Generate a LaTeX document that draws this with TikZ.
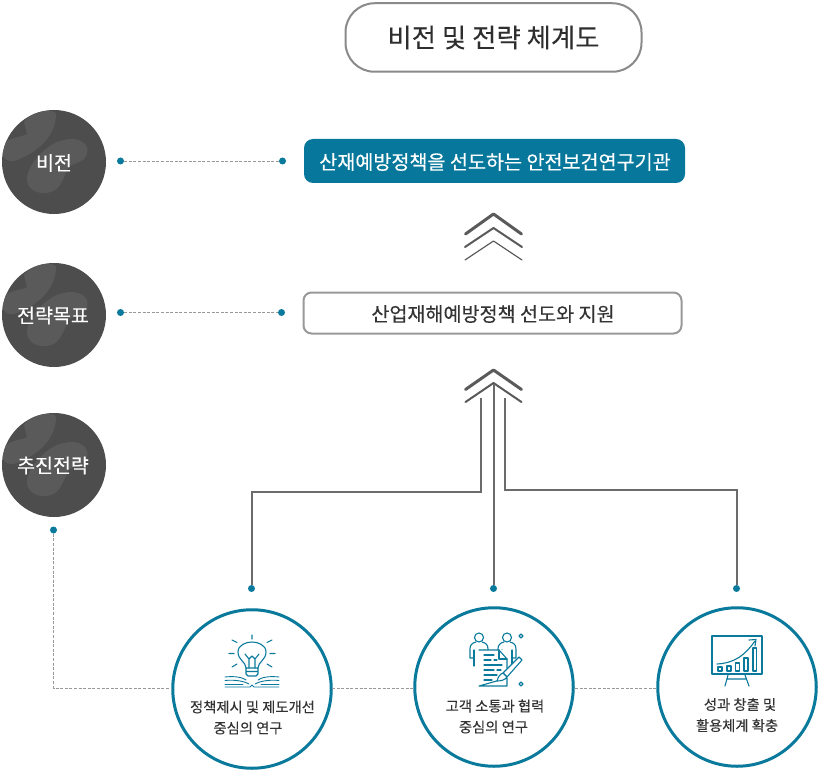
\documentclass[tikz,border=0pt]{standalone}
\usepackage{fontspec}
\setmainfont{Noto Sans CJK KR}
\newfontfamily\medf[FakeBold=0.35]{Noto Sans CJK KR}
\newfontfamily\semif[FakeBold=0.15]{Noto Sans CJK KR}
\definecolor{teal1}{HTML}{0A7A9C}
\definecolor{tealbox}{HTML}{07789B}
\definecolor{dark}{HTML}{4D4D4D}
\definecolor{blob}{HTML}{5A5A5A}
\definecolor{txt}{HTML}{333333}
\definecolor{grayln}{HTML}{999999}
\definecolor{chev}{HTML}{5A5A5A}
\tikzset{
 x=1pt,y=-1pt,
 px/.style={font=\semif\fontsize{#1}{#1}\selectfont},
 pxm/.style={font=\medf\fontsize{#1}{#1}\selectfont},
 dot/.style={circle,fill=teal1,inner sep=0,minimum size=7pt},
 dashln/.style={draw=grayln,line width=0.8pt,dash pattern=on 3pt off 1.6pt},
 side/.style={circle,fill=dark,inner sep=0,minimum size=104pt},
 sidetxt/.style={text=white,pxm=19.5,inner sep=0},
 goal/.style={circle,draw=teal1,line width=3pt,fill=none,inner sep=0,minimum size=158.5pt},
 captxt/.style={align=center,text=txt,px=14.3,inner sep=0},
 ic/.style={draw=teal1,line width=1.1pt,line cap=round,line join=round},
 icb/.style={draw=teal1,line width=0.9pt,line cap=round,line join=round},
 pipe/.style={draw=chev!90!white,line width=1.6pt},
}
\newcommand{\blobs}[2]{%
 \begin{scope}[shift={(#1,#2)}]
  \clip (0,0) circle (52);
  \fill[blob] (-30,-40) .. controls (-25,-50) and (0,-55) .. (2,-48) .. controls (2,-30) and (-10,-15) .. (-30,-5) .. controls (-42,2) and (-52,0) .. (-52,-12) .. controls (-52,-25) and (-30,-25) .. (-27,-28) -- cycle;
  \fill[blob] (-27,15) .. controls (-25,0) and (-5,-20) .. (10,-22) .. controls (25,-26) and (36,-18) .. (33,-8) .. controls (30,2) and (18,0) .. (14,6) .. controls (8,20) and (5,30) .. (-8,31) .. controls (-20,32) and (-28,25) .. (-27,15) -- cycle;
 \end{scope}}
\begin{document}
\begin{tikzpicture}
\useasboundingbox (0,0) rectangle (819,770);
\fill[white] (0,0) rectangle (819,770);
% title
\node[draw=grayln!90!black,line width=2pt,rounded corners=29pt,minimum width=296pt,minimum height=68.5pt,inner sep=0,text=txt!90!black,px=26.4] (title) at (493.5,37.5) {비전 및 전략 체계도};
% side circles
\node[side] (s1) at (54,162) {};
\node[side] (s2) at (54,315) {};
\node[side] (s3) at (54,465) {};
\blobs{54}{162}\blobs{54}{315}\blobs{54}{465}
\node[sidetxt] (t1) at (54,163) {비전};
\node[sidetxt] (t2) at (53,315.5) {전략목표};
\node[sidetxt] (t3) at (53,465.5) {추진전략};
% boxes
\node[fill=tealbox,rounded corners=9pt,minimum width=381pt,minimum height=44pt,inner sep=0] (vision) at (494.5,161) {};
\node[text=white,pxm=19.6,inner sep=0] (visiontxt) at (495,162) {산재예방정책을 선도하는 안전보건연구기관};
\node[draw=grayln,line width=2pt,fill=white,rounded corners=8pt,minimum width=378pt,minimum height=41pt,inner sep=0] (goal) at (492.5,313) {};
\node[text=txt,px=19.6,inner sep=0] (goaltxt) at (493,314) {산업재해예방정책 선도와 지원};
% dotted connectors
\node[dot] (a1) at (120.5,161) {};
\node[dot] (a2) at (282.5,161) {};
\node[dot] (b1) at (120.5,312.5) {};
\node[dot] (b2) at (281.5,312.5) {};
\draw[dashln] (a1) -- (a2);
\draw[dashln] (b1) -- (b2);
% chevrons
\coordinate (c1) at (493.5,214);
\draw[chev,line width=3pt,line cap=round,line join=round] (465.5,234) -- (c1) -- (521.5,234);
\draw[chev,line width=2pt,line cap=round,line join=round] (465,247) -- (493.5,228) -- (522,247);
\draw[chev,line width=1.2pt,line cap=round,line join=round] (465,260) -- (493.5,241) -- (522,260);
\draw[chev,line width=3pt,line cap=round,line join=round] (465.5,389.5) -- (493.5,370) -- (521.5,389.5);
\draw[chev,line width=2pt,line cap=round,line join=round] (465.5,402) -- (493.5,383) -- (521.5,402);
% goal circles
\node[goal] (g1) at (252,689) {};
\node[goal] (g2) at (494,687) {};
\node[goal] (g3) at (737,687) {};
% feed lines
\node[dot] (d1) at (251.5,588.5) {};
\node[dot] (d2) at (493.5,588.5) {};
\node[dot] (d3) at (736.5,588.5) {};
\coordinate (p1) at (481,397.5);
\coordinate (p2) at (494,384);
\coordinate (p3) at (505,398);
\coordinate (h1) at (252,492);
\coordinate (h3) at (737,490);
\draw[pipe] (d1.north -| h1) -- (h1) -- (p1 |- h1) -- (p1);
\draw[pipe] (d2.north -| p2) -- (p2);
\draw[pipe] (d3.north -| h3) -- (h3) -- (p3 |- h3) -- (p3);
% lower dashed
\node[dot] (d0) at (53.5,530) {};
\coordinate (r1) at (172,688);
\coordinate (r2) at (332,688);
\coordinate (r3) at (414,688);
\coordinate (r4) at (575,688);
\coordinate (r5) at (657,688);
\draw[dashln] (d0) -- (d0 |- r1) -- (r1);
\draw[dashln] (r2) -- (r3);
\draw[dashln] (r4) -- (r5);
% captions
\node[captxt] (c11) at (252.5,707) {정책제시 및 제도개선};
\node[captxt] (c12) at (248,728) {중심의 연구};
\node[captxt] (c21) at (495,706) {고객 소통과 협력};
\node[captxt] (c22) at (493.5,727) {중심의 연구};
\node[captxt] (c31) at (740,704.5) {성과 창출 및};
\node[captxt] (c32) at (737,725.5) {활용체계 확충};
% icon 1: bulb on book
\begin{scope}[shift={(252,657)}]
 \draw[ic] (-6,11) .. controls (-6,5) and (-14,3) .. (-14,-5) .. controls (-14,-12) and (-6,-15) .. (0,-15) .. controls (6,-15) and (14,-12) .. (14,-5) .. controls (14,3) and (6,5) .. (6,11) -- cycle;
 \draw[ic] (-3,11) -- (-3,2) -- (-7,-3) (3,11) -- (3,2) -- (7,-3) (-3,2) -- (0,-1) -- (3,2);
 \draw[ic] (-6,14.5) -- (6,14.5) (-6,11) -- (-6,17) -- (-4,19) -- (4,19) -- (6,17) -- (6,11);
 \draw[ic] (0,-22) -- (0,-18) (-20,-17) -- (-15,-14.5) (20,-17) -- (15,-14.5) (-23,-3.5) -- (-18,-3.5) (23,-3.5) -- (18,-3.5) (-20,10) -- (-15,7) (20,10) -- (15,7);
 \draw[icb] (-27,20) .. controls (-18,19) and (-10,20) .. (-6,23) (27,20) .. controls (18,19) and (10,20) .. (6,23);
 \draw[icb] (-27,23.5) .. controls (-18,22.5) and (-8,24) .. (-3,27) (27,23.5) .. controls (18,22.5) and (8,24) .. (3,27);
 \draw[icb] (-27,27) -- (-9,27) (27,27) -- (9,27);
 \draw[icb] (-27,30) -- (-2,30) -- (0,28) -- (2,30) -- (27,30);
\end{scope}
% icon 2: people and document
\begin{scope}[shift={(405,600)}]
 \foreach \q in {74,102}{
  \draw[ic] (\q,37.5) circle (4.5);
  \draw[ic] (\q-3,42) .. controls (\q-7,43) and (\q-9,45) .. (\q-9,49) -- (\q-9,58) -- (\q-5,58);
  \draw[ic] (\q+3,42) .. controls (\q+7,43) and (\q+9,45) .. (\q+9,49) -- (\q+9,58) -- (\q+5,58);
  \draw[ic] (\q-5,50) -- (\q-5,66);
  \draw[ic] (\q+5,50) -- (\q+5,66);
 }
 \fill[white] (74,50) rectangle (102,86);
 \draw[ic] (74,50) -- (94,50) -- (102,59) -- (102,68) (102,78) -- (102,86) -- (74,86) -- cycle;
 \draw[ic] (94,50) -- (94,59) -- (102,59);
 \draw[ic] (79,55) -- (89,55) (79,60) -- (86,60) (89,60) -- (92,60) (79,65) -- (97,65) (79,70) -- (89,70) (92,70) -- (96,70) (79,75) -- (92,75) (79,80) -- (87,80);
 \draw[ic,fill=white] (98,73) -- (114,57) -- (117,60) -- (102,77) -- cycle;
 \draw[ic,fill=white] (98,73) .. controls (95,74) and (93,77) .. (92,81) .. controls (96,81) and (100,80) .. (102,77) -- cycle;
 \draw[ic] (116,34) -- (118,36) -- (116,38) -- (114,36) -- cycle;
 \draw[ic] (116,82) -- (118,84) -- (116,86) -- (114,84) -- cycle;
\end{scope}
% icon 3: chart board
\begin{scope}[shift={(645,600)}]
 \draw[ic,line width=1.3pt] (67,36) rectangle (117,74);
 \draw[ic] (72,64) .. controls (90,63) and (100,55) .. (110,41);
 \draw[ic] (104,40) -- (111,39.5) -- (110,46);
 \draw[ic] (73,67) rectangle (77,71);
 \draw[ic] (82,66) rectangle (86,71);
 \draw[ic] (90.5,63) rectangle (94.5,71);
 \draw[ic] (99,58) rectangle (103,71);
 \draw[ic] (108,48) rectangle (111.5,71);
 \draw[ic] (83,75) -- (80,86) (100,75) -- (104,86) (82,79) -- (101,79);
\end{scope}
\end{tikzpicture}
\end{document}
